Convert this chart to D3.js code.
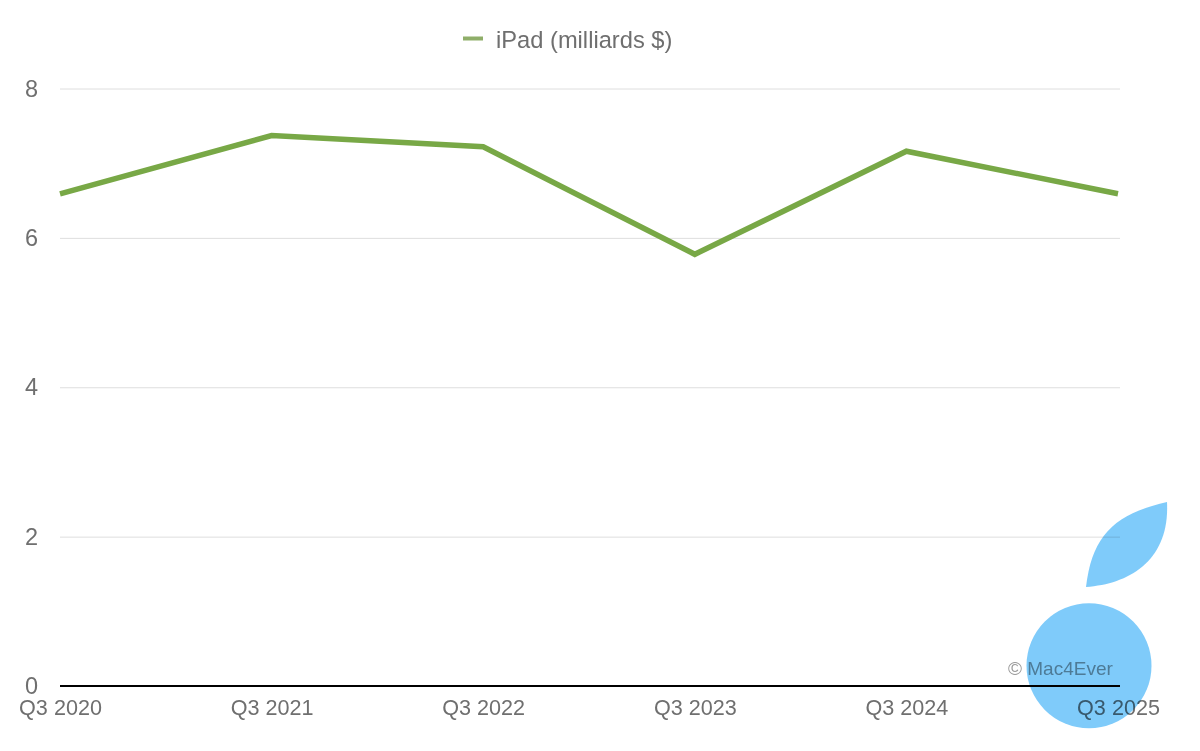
<!DOCTYPE html>
<html>
<head>
<meta charset="utf-8">
<script src="https://cdn.jsdelivr.net/npm/d3@7"></script>
<style>
  html, body { margin: 0; padding: 0; background: #fff; }
  svg { display: block; }
  text { font-family: "Liberation Sans", sans-serif; }
</style>
</head>
<body>
<svg id="chart" width="1200" height="751"></svg>
<script>
// Values
var quarters = ["Q3 2020", "Q3 2021", "Q3 2022", "Q3 2023", "Q3 2024", "Q3 2025"];
var ipadValues = [6.59, 7.37, 7.22, 5.78, 7.16, 6.59];
var yTicks = [0, 2, 4, 6, 8];
var legendLabel = "iPad (milliards $)";
var watermark = "\u00A9 Mac4Ever";

var svg = d3.select("#chart");

var x = d3.scalePoint().domain(quarters).range([60, 1118]);
var y = d3.scaleLinear().domain([0, 8]).range([686, 88.5]);

// Grid lines and y labels
var yAxis = d3.axisLeft(y).tickValues(yTicks).tickSize(-1060).tickPadding(22).tickFormat(d3.format("d"));
var yG = svg.append("g").attr("transform", "translate(60,0)").call(yAxis);
yG.select(".domain").remove();
yG.selectAll("line").attr("stroke", "#dedede").attr("stroke-width", 1);
yG.selectAll("text").attr("font-size", 23.5).attr("fill", "#6f6f6f").attr("font-family", "Liberation Sans");

// Baseline
svg.append("line")
  .attr("x1", 60).attr("x2", 1120)
  .attr("y1", y(0)).attr("y2", y(0))
  .attr("stroke", "#000")
  .attr("stroke-width", 2);

// x labels
var xAxis = d3.axisBottom(x).tickSize(0).tickPadding(14);
var xG = svg.append("g").attr("transform", "translate(0,686)").call(xAxis);
xG.select(".domain").remove();
xG.selectAll("text").attr("font-size", 21.6).attr("fill", "#6f6f6f").attr("font-family", "Liberation Sans");

// iPad line
var line = d3.line()
  .x((d, i) => x(quarters[i]))
  .y(d => y(d));

svg.append("path")
  .datum(ipadValues)
  .attr("fill", "none")
  .attr("stroke", "#78a846")
  .attr("stroke-width", 5.5)
  .attr("stroke-linejoin", "miter")
  .attr("d", line);

// Legend
svg.append("line")
  .attr("x1", 463).attr("x2", 483)
  .attr("y1", 38.5).attr("y2", 38.5)
  .attr("stroke", "#8fae69")
  .attr("stroke-width", 4);
svg.append("text")
  .attr("x", 496).attr("y", 47.5)
  .attr("font-size", 23.7)
  .attr("fill", "#6f6f6f")
  .text(legendLabel);

// Watermark
svg.append("text")
  .attr("x", 1008).attr("y", 675)
  .attr("font-size", 19)
  .attr("fill", "#9a9a9a")
  .text(watermark);

// Logo, multiplied over the chart
var logo = svg.append("g").style("mix-blend-mode", "multiply").attr("fill", "#7fcbfa");
logo.append("circle").attr("cx", 1089).attr("cy", 665.7).attr("r", 62.5);
logo.append("path").attr("d", "M1167,502 C1115,514 1092,535 1086,587 C1130,584 1170,560 1167,502 Z");
</script>
</body>
</html>
